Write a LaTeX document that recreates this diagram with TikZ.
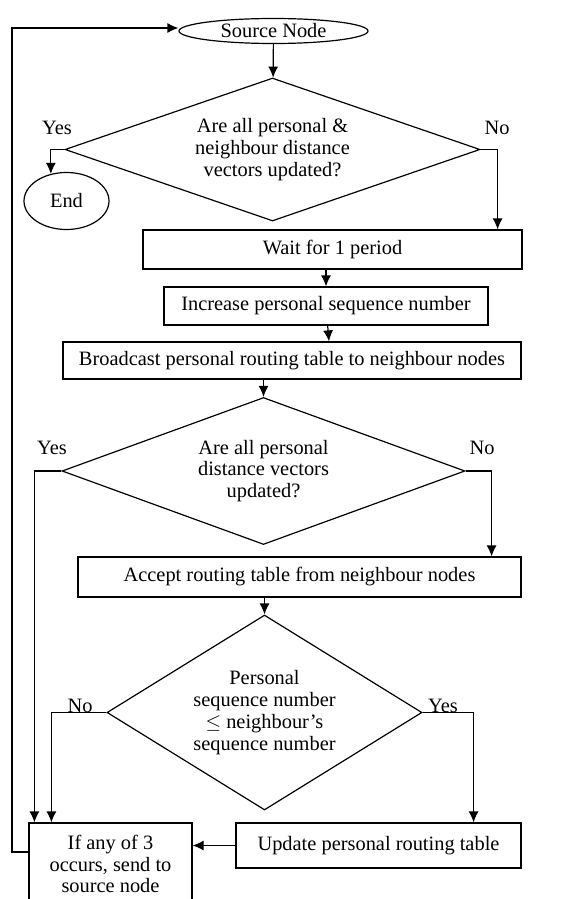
\documentclass[tikz,border=0pt]{standalone}
\usepackage{fontspec}
\setmainfont{Liberation Serif}
\usetikzlibrary{shapes.geometric}
\usetikzlibrary{arrows.meta}

\begin{document}
\begin{tikzpicture}[x=0.5pt,y=-0.5pt,
    font=\fontsize{10.2}{10.9}\selectfont,
    >={Latex[length=5.5pt,width=5pt]},
    every path/.style={line width=0.6pt},
    stepbox/.style={
% The shape:
rectangle,
% The size:
inner sep=0pt,
% The border:
draw,
},
    decision/.style={
% The shape:
diamond,
align=center,
% The size:
inner sep=0pt,
% The border:
draw,
},
    terminal/.style={
% The shape:
ellipse,
% The size:
inner sep=0pt,
% The border:
draw,
},
]
  \useasboundingbox (0,0) rectangle (566,899);

  \node[terminal,minimum width=94.5pt,minimum height=12.5pt]
    (src) at (273.5, 31) {Source Node};
  \node[decision,minimum width=207.5pt,minimum height=71.5pt,aspect=2.9]
    (dec1) at (272.5, 149.5)
    {Are all personal \&\\ neighbour distance\\ vectors updated?};
  \node[terminal,minimum width=42.5pt,minimum height=28.5pt]
    (end) at (66.5, 201) {End};
  \node[stepbox,minimum width=189.5pt,minimum height=19.5pt]
    (wait) at (332.5, 249.5) {Wait for 1 period};
  \node[stepbox,minimum width=162pt,minimum height=19pt]
    (inc) at (326, 306) {Increase personal sequence number};
  \node[stepbox,minimum width=229pt,minimum height=18.5pt]
    (bcast) at (292, 360.5)
    {Broadcast personal routing table to neighbour nodes};
  \node[decision,minimum width=201.5pt,minimum height=73.5pt,aspect=2.74]
    (dec2) at (263.5, 471)
    {Are all personal\\ distance vectors\\ updated?};
  \node[stepbox,minimum width=221.5pt,minimum height=20pt]
    (accept) at (299.5, 577) {Accept routing table from neighbour nodes};
  \node[decision,minimum width=157.5pt,minimum height=97.5pt,aspect=1.6]
    (dec3) at (264.5, 712.5)
    {Personal\\ sequence number\\ $\leq$ neighbour's\\ sequence number};
  \node[stepbox,minimum width=142.5pt,minimum height=22.5pt]
    (update) at (378.5, 845.5) {Update personal routing table};
  \node[stepbox,minimum width=81.5pt,minimum height=41pt,align=center]
    (anyof) at (110.5, 864) {If any of 3\\ occurs, send to\\ source node};

  \node (yes1) at (57, 128) {Yes};
  \node (no1)  at (497, 128) {No};
  \node (yes2) at (52, 448) {Yes};
  \node (no2)  at (482, 448) {No};
  \node (no3)  at (80, 706) {No};
  \node (yes3) at (443, 706) {Yes};

  \coordinate (back) at (12, 852);

  \draw[->] (src) -- (dec1);
  \draw[->] (dec1.west) -| (end.120);
  \draw[->] (dec1.east) -| ([xshift=-12.5pt]wait.north east);
  \draw[->] (inc.north |- wait.south) -- (inc);
  \draw[->] (inc) -- ([xshift=1.5pt]inc.south |- bcast.north);
  \draw[->] (dec2 |- bcast.south) -- (dec2);
  \draw[->] (dec2.west) -| ([xshift=3pt]anyof.north west);
  \draw[->] (dec2.east) -| ([xshift=-15pt]accept.north east);
  \draw[->] (dec3 |- accept.south) -- (dec3);
  \draw[->] (dec3.west) -| ([xshift=11.5pt]anyof.north west);
  \draw[->] (dec3.east) -| ([xshift=-24pt]update.north east);
  \draw[->] (update.west) -- (update.west -| anyof.east);
  \draw[->] ([yshift=6pt]anyof.west) -- (back) |- ([yshift=1.5pt]src.west);

\end{tikzpicture}
\end{document}
